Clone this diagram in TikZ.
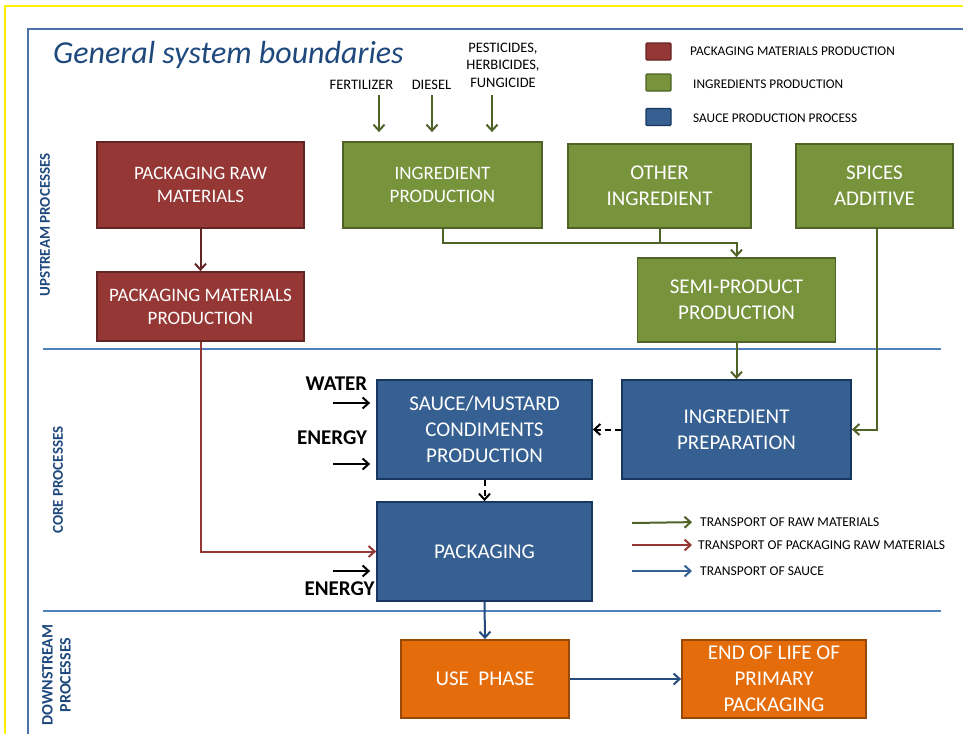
\documentclass[tikz,border=0pt]{standalone}
\usepackage{fontspec}
\setmainfont{Carlito}
\usetikzlibrary{arrows.meta}

\definecolor{packred}{HTML}{953735}
\definecolor{packredline}{HTML}{632523}
\definecolor{ingreen}{HTML}{77933C}
\definecolor{ingreenline}{HTML}{4F6228}
\definecolor{sauceblue}{HTML}{376092}
\definecolor{sauceblueline}{HTML}{17375E}
\definecolor{useorange}{HTML}{E46C0A}
\definecolor{useorangeline}{HTML}{984807}
\definecolor{titleblue}{HTML}{1F497D}
\definecolor{frameblue}{HTML}{4A72A8}
\definecolor{sepblue}{HTML}{4F81BD}
\definecolor{flowblue}{HTML}{254A7D}

\newcommand{\boxfont}[2]{\fontsize{#1}{#2}\selectfont}

\begin{document}
\begin{tikzpicture}[x=1pt, y=-1pt, >={Straight Barb[length=6pt,width=11pt]}]
\useasboundingbox (0,0) rectangle (963,734);

% borders and phase separators
\draw [yellow, line width=1.2pt] (5,734) -- (5,6) -- (963,6);
\draw [frameblue, line width=2.5pt] (28,734) -- (28,29) -- (963,29);
\draw [sepblue, line width=1.5pt] (43,349) -- (941,349);
\draw [sepblue, line width=1.5pt] (43,611) -- (941,611);

\node (title) at (53,55) [anchor=west, inner sep=0pt, text=titleblue, font=\fontsize{32}{38}\selectfont\itshape] {General system boundaries};

% phase labels
\begin{scope}[every node/.style={rotate=90, text=titleblue, align=center}]
    \node (upstream) at (45,225) [font=\fontsize{15}{18}\selectfont\bfseries] {UPSTREAM PROCESSES};
    \node (core) at (58,480) [font=\fontsize{15}{18}\selectfont\bfseries] {CORE PROCESSES};
    \node (downstream) at (56.5,675) [font=\fontsize{16}{18}\selectfont\bfseries] {DOWNSTREAM\\PROCESSES};
\end{scope}

% process boxes
\begin{scope}[every node/.style={rectangle, draw, line width=1.8pt, inner sep=0pt, text=white, align=center}]
    \node (rawpack) at (200.5,185) [fill=packred, draw=packredline, minimum width=207pt, minimum height=86pt, font=\boxfont{19}{23}] {PACKAGING RAW\\MATERIALS};
    \node (packprod) at (200.5,306.5) [fill=packred, draw=packredline, minimum width=207pt, minimum height=69pt, font=\boxfont{19}{23}] {PACKAGING MATERIALS\\PRODUCTION};

    \node (ingprod) at (442.5,185) [fill=ingreen, draw=ingreenline, minimum width=199pt, minimum height=86pt, font=\boxfont{19}{23}] {INGREDIENT\\PRODUCTION};
    \node (otheri) at (659.5,186) [fill=ingreen, draw=ingreenline, minimum width=183pt, minimum height=84pt, font=\boxfont{21}{26}] {OTHER\\INGREDIENT};
    \node (spices) at (874.5,186) [fill=ingreen, draw=ingreenline, minimum width=157pt, minimum height=84pt, font=\boxfont{21}{26}] {SPICES\\ADDITIVE};
    \node (semiprod) at (736.5,300) [fill=ingreen, draw=ingreenline, minimum width=198pt, minimum height=84pt, font=\boxfont{21}{26}] {SEMI-PRODUCT\\PRODUCTION};

    \node (sauce) at (484.5,429.5) [fill=sauceblue, draw=sauceblueline, minimum width=215pt, minimum height=99pt, font=\boxfont{21}{26}] {SAUCE/MUSTARD\\CONDIMENTS\\PRODUCTION};
    \node (ingprep) at (736.5,429.5) [fill=sauceblue, draw=sauceblueline, minimum width=229pt, minimum height=99pt, font=\boxfont{21}{26}] {INGREDIENT\\PREPARATION};
    \node (packaging) at (484.5,551.5) [fill=sauceblue, draw=sauceblueline, minimum width=215pt, minimum height=99pt, font=\boxfont{21}{26}] {PACKAGING};

    \node (usephase) at (485,679) [fill=useorange, draw=useorangeline, minimum width=168pt, minimum height=78pt, font=\boxfont{21}{26}] {USE\ \ PHASE};
    \node (endlife) at (774,679) [fill=useorange, draw=useorangeline, minimum width=184pt, minimum height=78pt, font=\boxfont{21}{26}] {END OF LIFE OF\\PRIMARY\\PACKAGING};

    % colour legend
    \node (keyred) at (658.5,51.5) [fill=packred, draw=packredline, line width=1.2pt, rounded corners=1pt, minimum width=25pt, minimum height=17pt] {};
    \node (keygreen) at (658.5,82.5) [fill=ingreen, draw=ingreenline, line width=1.2pt, rounded corners=1pt, minimum width=25pt, minimum height=17pt] {};
    \node (keyblue) at (658.5,117) [fill=sauceblue, draw=sauceblueline, line width=1.2pt, rounded corners=1pt, minimum width=25pt, minimum height=17pt] {};
\end{scope}

% inputs and legend texts
\begin{scope}[every node/.style={text=black, align=center, font=\fontsize{14.5}{17.5}\selectfont}]
    \node (fert) at (361.5,84.5) {FERTILIZER};
    \node (diesel) at (431.5,84.5) {DIESEL};
    \node (pest) at (503,65) {PESTICIDES,\\HERBICIDES,\\FUNGICIDE};

    \node (water) at (336.5,383.5) [font=\fontsize{21}{24}\selectfont\bfseries] {WATER};
    \node (energya) at (332,437.5) [font=\fontsize{21}{24}\selectfont\bfseries] {ENERGY};
    \node (energyb) at (339.5,589) [font=\fontsize{21}{24}\selectfont\bfseries] {ENERGY};

    \node (keyredtext) at (690,51) [anchor=west, inner sep=0pt, font=\fontsize{13.3}{15}\selectfont] {PACKAGING MATERIALS PRODUCTION};
    \node (keygreentext) at (693,84) [anchor=west, inner sep=0pt, font=\fontsize{13.3}{15}\selectfont] {INGREDIENTS PRODUCTION};
    \node (keybluetext) at (693,118) [anchor=west, inner sep=0pt, font=\fontsize{13.3}{15}\selectfont] {SAUCE PRODUCTION PROCESS};

    \node (rawtext) at (700,522) [anchor=west, inner sep=0pt, font=\fontsize{13.5}{15}\selectfont] {TRANSPORT OF RAW MATERIALS};
    \node (packtext) at (698,545) [anchor=west, inner sep=0pt, font=\fontsize{13.5}{15}\selectfont] {TRANSPORT OF PACKAGING RAW MATERIALS};
    \node (saucetext) at (700,571) [anchor=west, inner sep=0pt, font=\fontsize{13.5}{15}\selectfont] {TRANSPORT OF SAUCE};
\end{scope}

\coordinate (fertin) at (379,95);
\coordinate (dieselin) at (432,95);
\coordinate (pestin) at (492,95);
\coordinate (join) at (736.5,243);
\coordinate (spicesout) at (877,228);
\coordinate (waterin) at (333,403);
\coordinate (energyain) at (333,464);
\coordinate (energybin) at (333,571);
\coordinate (rawkey) at (632,523);
\coordinate (packkey) at (632,545);
\coordinate (saucekey) at (632,571);

% flows
\begin{scope}[line width=2pt]
    \draw [->, ingreenline, shorten >=9pt] (fertin) -- (fertin |- ingprod.north);
    \draw [->, ingreenline, shorten >=9pt] (dieselin) -- (dieselin |- ingprod.north);
    \draw [->, ingreenline, shorten >=9pt] (pestin) -- (pestin |- ingprod.north);

    \draw [->, ingreenline] (ingprod.south) |- (join) -- (semiprod.north);
    \draw [ingreenline] (otheri.south) -- (otheri.south |- join);
    \draw [->, ingreenline] (semiprod.south) -- (ingprep.north);
    \draw [->, ingreenline] (spicesout) |- (ingprep.east);

    \draw [->, packredline] (rawpack.south) -- (packprod.north);
    \draw [->, packred] (packprod.south) |- (packaging.west);

    \draw [->, black, dash pattern=on 6pt off 4pt] (ingprep.west) -- (sauce.east);
    \draw [->, black, dash pattern=on 6pt off 4pt] (sauce.south) -- (packaging.north);
    \draw [->, flowblue] (packaging.south) -- (usephase.north);
    \draw [->, flowblue] (usephase.east) -- (endlife.west);

    \draw [->, black, shorten >=6pt] (waterin) -- (waterin -| sauce.west);
    \draw [->, black, shorten >=6pt] (energyain) -- (energyain -| sauce.west);
    \draw [->, black, shorten >=6pt] (energybin) -- (energybin -| packaging.west);

    \draw [->, ingreenline, shorten >=8pt] (rawkey) -- (rawtext.west);
    \draw [->, packred, shorten >=6pt] (packkey) -- (packtext.west);
    \draw [->, sauceblue, shorten >=8pt] (saucekey) -- (saucetext.west);
\end{scope}
\end{tikzpicture}
\end{document}
